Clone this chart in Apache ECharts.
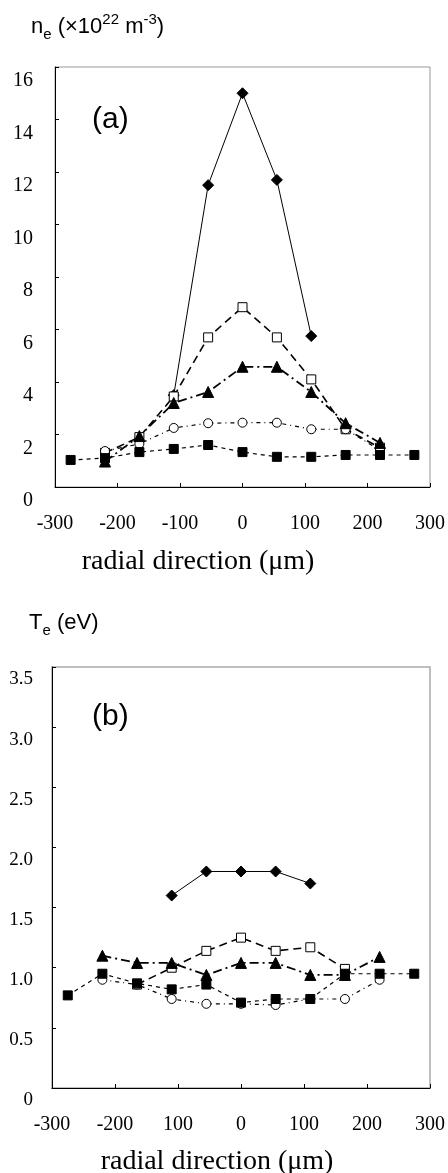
<!DOCTYPE html>
<html>
<head>
<meta charset="utf-8">
<script src="https://cdn.jsdelivr.net/npm/echarts@6/dist/echarts.min.js"></script>
<style>
  html, body { margin: 0; padding: 0; background: #fff; }
  #chart { width: 448px; height: 1173px; }
</style>
</head>
<body>
<div id="chart"></div>
<script>
const chart = echarts.init(document.getElementById('chart'));

// radial positions (um)
const radialPos = [-275, -220, -165, -110, -55, 0, 55, 110, 165, 220, 275];

// (a) electron density, x10^22 m^-3
const neDiamond      = [null, null, null, 3.5, 11.5, 15.0, 11.7, 5.75, null, null, null];
const neOpenSquare   = [null, 1.3, 1.9, 3.45, 5.7, 6.85, 5.7, 4.1, 2.2, 1.5, null];
const neTriangle     = [null, 0.97, 1.94, 3.2, 3.62, 4.58, 4.58, 3.62, 2.43, 1.68, null];
const neCircle       = [null, 1.37, 1.64, 2.25, 2.43, 2.45, 2.45, 2.2, 2.2, 1.4, null];
const neFilledSquare = [1.03, 1.1, 1.33, 1.45, 1.6, 1.33, 1.15, 1.15, 1.22, 1.22, 1.22];

// (b) electron temperature, eV
const teDiamond      = [null, null, null, 1.6, 1.8, 1.8, 1.8, 1.7, null, null, null];
const teOpenSquare   = [null, null, 0.86, 1.0, 1.14, 1.25, 1.14, 1.17, 0.99, null, null];
const teTriangle     = [null, 1.1, 1.04, 1.04, 0.94, 1.04, 1.04, 0.94, 0.94, 1.09, null];
const teFilledSquare = [0.77, 0.95, 0.87, 0.82, 0.86, 0.71, 0.74, 0.74, 0.95, 0.95, 0.95];
const teCircle       = [null, 0.9, 0.86, 0.74, 0.70, 0.70, 0.69, 0.74, 0.74, 0.9, null];

// tick labels as printed
const xTicks = [-300, -200, -100, 0, 100, 200, 300];
const xLabelsA = ['-300', '-200', '-100', '0', '100', '200', '300'];
const xLabelsB = ['-300', '-200', '100', '0', '100', '200', '300'];
const yLabelsA = ['0', '2', '4', '6', '8', '10', '12', '14', '16'];
const yLabelsB = ['0', '0.5', '1.0', '1.5', '2.0', '2.5', '3.0', '3.5'];

const serif = "'Liberation Serif', 'Times New Roman', serif";
const sans = "'Liberation Sans', Arial, sans-serif";

function pairs(vals) {
    return radialPos.map((x, i) => vals[i] == null ? null : [x, vals[i]]).filter(p => p);
}

function xAxisFor(gridIndex, labels) {
    return {
        type: 'value', gridIndex: gridIndex, min: -300, max: 300, interval: 100,
        axisLine: { onZero: false, lineStyle: { color: '#000', width: 1 } },
        axisTick: { inside: true, length: 4, lineStyle: { color: '#000' } },
        splitLine: { show: false },
        axisLabel: {
            margin: 27, fontFamily: serif, fontSize: 20, color: '#000',
            formatter: v => labels[xTicks.indexOf(v)] || ''
        }
    };
}

function yAxisFor(gridIndex, max, step, labels, fontSize, margin, pad) {
    return {
        type: 'value', gridIndex: gridIndex, min: 0, max: max, interval: step,
        axisLine: { show: true, onZero: false, lineStyle: { color: '#000' } },
        axisTick: { show: true, inside: true, length: 4, lineStyle: { color: '#000' } },
        splitLine: { show: false },
        axisLabel: {
            margin: margin, fontFamily: serif, fontSize: fontSize, color: '#000',
            verticalAlign: 'top', padding: [pad, 0, 0, 0],
            formatter: v => labels[Math.round(v / step)]
        }
    };
}

// line styles per marker type
const styles = {
    diamond: { symbol: 'diamond', size: 11, fill: '#000', width: 1, type: 'solid' },
    openSquare: { symbol: 'rect', size: 9, fill: '#fff', width: 1.6, type: [8, 5] },
    triangle: { symbol: 'triangle', size: 11, fill: '#000', width: 1.8, type: [9, 4, 2, 4] },
    circle: { symbol: 'circle', size: 9, fill: '#fff', width: 1.2, type: [4, 4, 1, 4] },
    filledSquare: { symbol: 'rect', size: 9, fill: '#000', width: 1.2, type: [4, 4] }
};

function makeSeries(name, vals, style, idx) {
    const s = styles[style];
    return {
        name: name, type: 'line', xAxisIndex: idx, yAxisIndex: idx,
        data: pairs(vals),
        symbol: s.symbol, symbolSize: s.size, showAllSymbol: true,
        lineStyle: { color: '#000', width: s.width, type: s.type },
        itemStyle: { color: s.fill, borderColor: '#000', borderWidth: 1 },
        animation: false
    };
}

const titleRich = {
    n: { fontFamily: sans, fontSize: 22, fill: '#000', lineHeight: 30, verticalAlign: 'middle' },
    s: { fontFamily: sans, fontSize: 15, fill: '#000', lineHeight: 15, verticalAlign: 'bottom' },
    p: { fontFamily: sans, fontSize: 15, fill: '#000', lineHeight: 15, verticalAlign: 'top' }
};

const option = {
    backgroundColor: '#fff',
    animation: false,
    grid: [
        { left: 55, top: 67, width: 380, height: 420, show: true, borderColor: '#999', borderWidth: 1 },
        { left: 52, top: 667, width: 385, height: 421, show: true, borderColor: '#aaa', borderWidth: 1.5 }
    ],
    xAxis: [xAxisFor(0, xLabelsA), xAxisFor(1, xLabelsB)],
    yAxis: [
        yAxisFor(0, 16, 2, yLabelsA, 20, 22, 4),
        yAxisFor(1, 3.5, 0.5, yLabelsB, 19, 19, 3)
    ],
    graphic: [
        {
            type: 'text', left: 31, top: 12,
            style: { text: '{n|n}{s|e}{n| (×10}{p|22}{n| m}{p|-3}{n|)}', rich: titleRich }
        },
        {
            type: 'text', left: 92, top: 105,
            style: { text: '(a)', fontFamily: sans, fontSize: 30, fill: '#000' }
        },
        {
            type: 'text', x: 198, y: 562,
            style: { text: 'radial direction (μm)', fontFamily: serif, fontSize: 28, fill: '#000', align: 'center', verticalAlign: 'middle' }
        },
        {
            type: 'text', left: 29, top: 612,
            style: { text: '{n|T}{s|e}{n| (eV)}', rich: titleRich }
        },
        {
            type: 'text', left: 92, top: 702,
            style: { text: '(b)', fontFamily: sans, fontSize: 30, fill: '#000' }
        },
        {
            type: 'text', x: 217, y: 1162,
            style: { text: 'radial direction (μm)', fontFamily: serif, fontSize: 28, fill: '#000', align: 'center', verticalAlign: 'middle' }
        }
    ],
    series: [
        makeSeries('ne-diamond', neDiamond, 'diamond', 0),
        makeSeries('ne-openSquare', neOpenSquare, 'openSquare', 0),
        makeSeries('ne-circle', neCircle, 'circle', 0),
        makeSeries('ne-filledSquare', neFilledSquare, 'filledSquare', 0),
        makeSeries('ne-triangle', neTriangle, 'triangle', 0),
        makeSeries('te-diamond', teDiamond, 'diamond', 1),
        makeSeries('te-openSquare', teOpenSquare, 'openSquare', 1),
        makeSeries('te-circle', teCircle, 'circle', 1),
        makeSeries('te-filledSquare', teFilledSquare, 'filledSquare', 1),
        makeSeries('te-triangle', teTriangle, 'triangle', 1)
    ]
};

chart.setOption(option);
window.addEventListener('resize', () => chart.resize());
</script>
</body>
</html>
